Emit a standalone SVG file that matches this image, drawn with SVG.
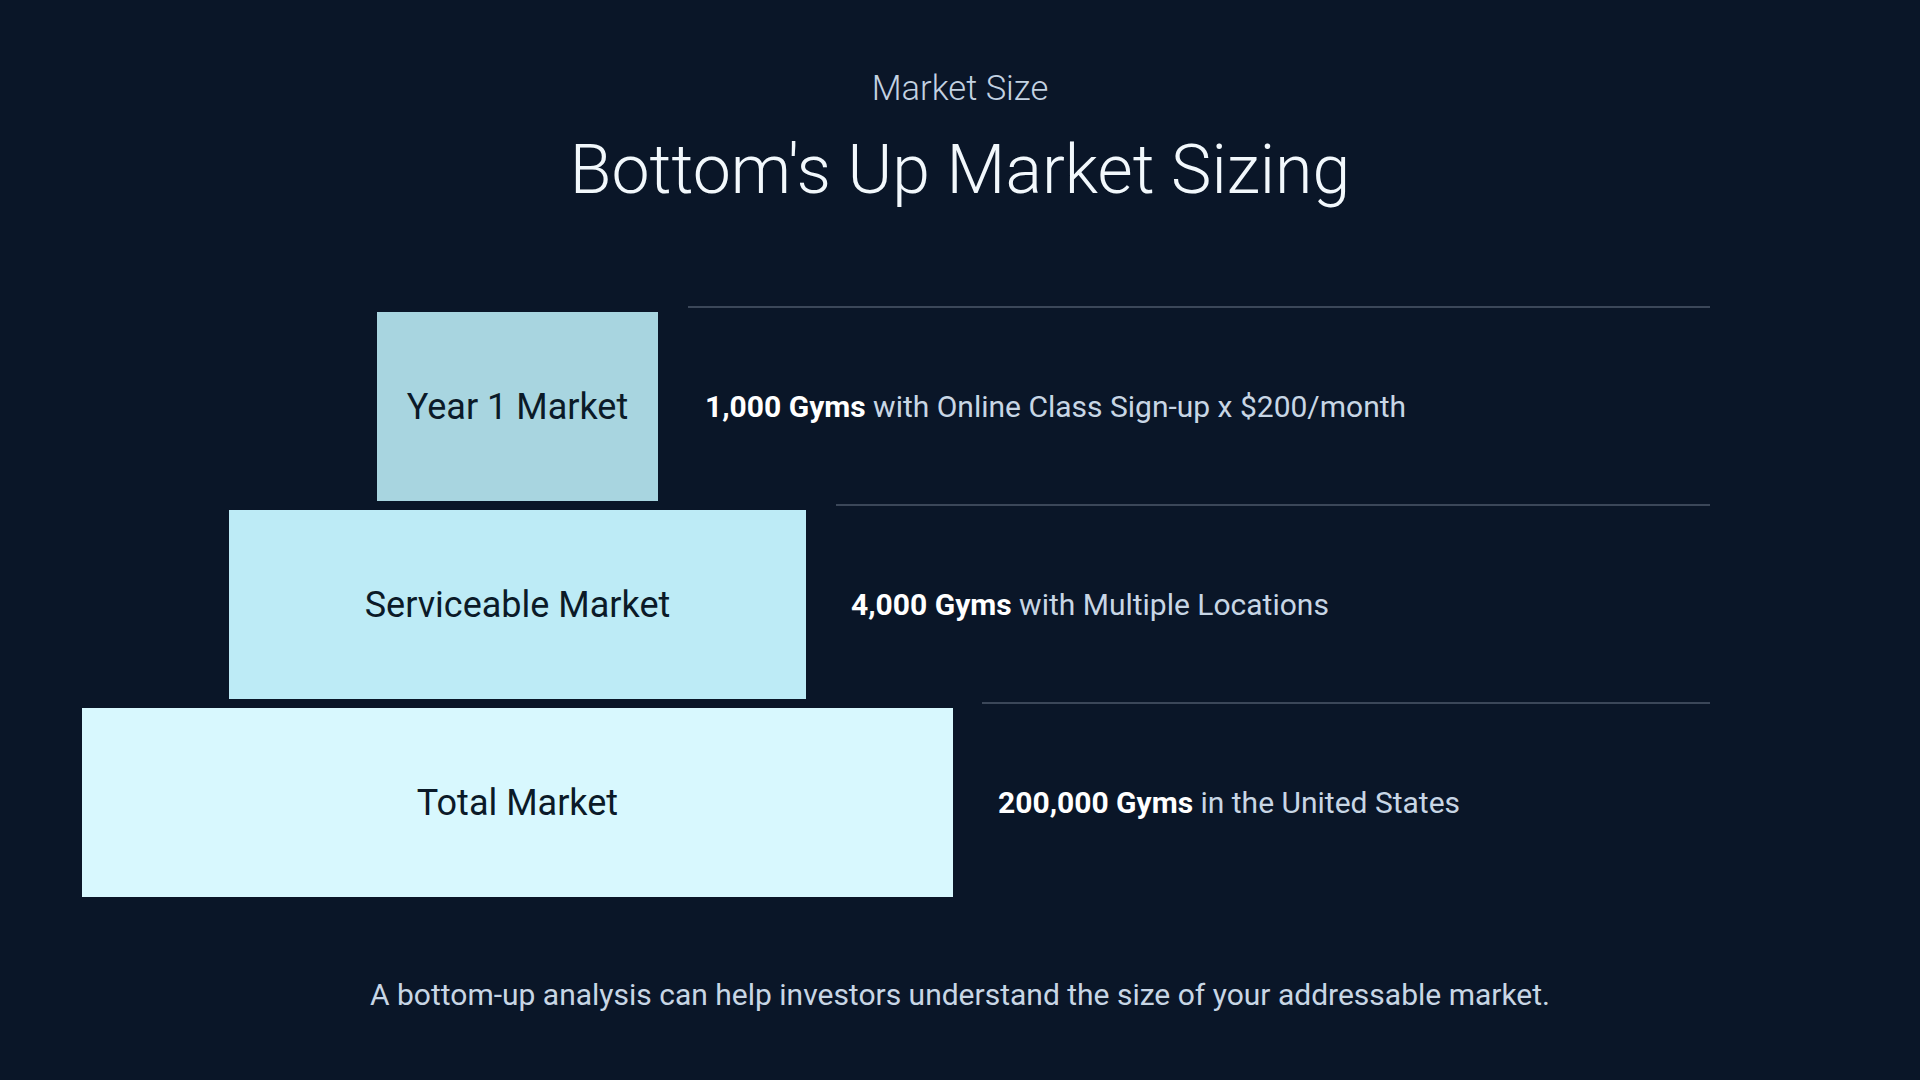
<svg xmlns="http://www.w3.org/2000/svg" width="1920" height="1080" viewBox="0 0 1920 1080">
  <style>
    .bg { fill: #0a1628; }
    .kicker { font-family: Roboto, "Liberation Sans", sans-serif; font-weight: 300; font-size: 34.5px; fill: #c3d2e2; }
    .title { font-family: Roboto, "Liberation Sans", sans-serif; font-weight: 300; font-size: 68px; fill: #f2f8fc; }
    .boxlabel { font-family: Roboto, "Liberation Sans", sans-serif; font-weight: 400; font-size: 36px; fill: #0b1a28; }
    .desc { font-family: Roboto, "Liberation Sans", sans-serif; font-weight: 400; font-size: 30px; fill: #c8d6e5; }
    .desc .b { font-weight: 700; fill: #ffffff; }
    .foot { font-family: Roboto, "Liberation Sans", sans-serif; font-weight: 400; font-size: 30px; fill: #c8d6e5; }
    .rule { stroke: #3b4759; stroke-width: 2; }
  </style>
  <rect class="bg" x="0" y="0" width="1920" height="1080"/>

  <g id="header">
    <text class="kicker" x="960" y="100" text-anchor="middle">Market Size</text>
    <text class="title" x="960" y="193" text-anchor="middle">Bottom's Up Market Sizing</text>
  </g>

  <g id="connectors">
    <line class="rule" x1="688" y1="307" x2="1710" y2="307"/>
    <line class="rule" x1="836" y1="505" x2="1710" y2="505"/>
    <line class="rule" x1="982" y1="703" x2="1710" y2="703"/>
  </g>

  <g id="year1">
    <rect x="377" y="312" width="281" height="189" fill="#a8d5e0"/>
    <text class="boxlabel" x="517.5" y="419" text-anchor="middle">Year 1 Market</text>
    <text class="desc" x="705" y="417"><tspan class="b">1,000 Gyms</tspan> with Online Class Sign-up x $200/month</text>
  </g>

  <g id="serviceable">
    <rect x="229" y="510" width="577" height="189" fill="#bdebf6"/>
    <text class="boxlabel" x="517.5" y="617" text-anchor="middle">Serviceable Market</text>
    <text class="desc" x="851" y="615"><tspan class="b">4,000 Gyms</tspan> with Multiple Locations</text>
  </g>

  <g id="total">
    <rect x="82" y="708" width="871" height="189" fill="#d8f8fe"/>
    <text class="boxlabel" x="517.5" y="815" text-anchor="middle">Total Market</text>
    <text class="desc" x="998" y="813"><tspan class="b">200,000 Gyms</tspan> in the United States</text>
  </g>

  <g id="footer">
    <text class="foot" x="960" y="1005" text-anchor="middle">A bottom-up analysis can help investors understand the size of your addressable market.</text>
  </g>
</svg>
